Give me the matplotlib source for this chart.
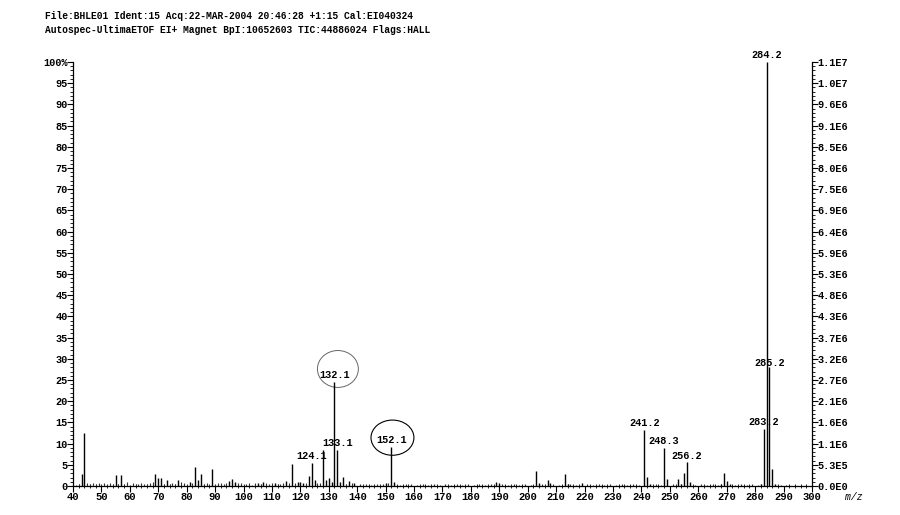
import numpy as np
import matplotlib.pyplot as plt
from matplotlib.patches import Ellipse

# ヘッダー
header = ['File:BHLE01 Ident:15 Acq:22-MAR-2004 20:46:28 +1:15 Cal:EI040324',
          'Autospec-UltimaETOF EI+ Magnet BpI:10652603 TIC:44886024 Flags:HALL']

# 主なピーク (m/z, 相対強度 %)
peak_mz = [43, 44, 55, 57, 69, 70, 71, 73, 77, 81, 83, 84, 85, 89, 95, 96, 97,
           105, 107, 111, 115, 117, 119, 120, 121, 123, 124, 125, 128, 129, 130, 131,
           132, 133, 134, 135, 137, 139, 150, 152, 153,
           189, 190, 203, 204, 207, 208, 213, 214, 219,
           241, 242, 243, 248, 249, 253, 254, 255, 256, 257,
           268, 269, 270, 271, 282, 283, 284, 285, 286, 287]
peak_int = [2.8, 12.6, 2.6, 2.6, 2.8, 1.8, 1.8, 1.5, 1.3, 1.0, 4.5, 1.5, 2.8, 3.9, 1.2, 1.6, 1.0,
            0.8, 0.9, 0.8, 1.1, 5.1, 1.0, 1.0, 0.8, 2.4, 5.5, 1.3, 8.5, 1.3, 1.8, 1.0,
            24.6, 8.5, 1.0, 2.2, 1.2, 0.6, 0.7, 9.3, 1.0,
            1.0, 0.6, 3.6, 0.6, 1.3, 0.6, 2.8, 0.5, 0.6,
            13.2, 2.2, 0.5, 9.0, 1.6, 1.6, 0.5, 3.0, 5.6, 0.9,
            0.5, 3.0, 1.2, 0.4, 0.5, 13.4, 100.0, 28.0, 4.0, 0.5]

# ベースラインの小さなピーク
noise_mz = [41, 42, 45, 46, 47, 48, 49, 50, 51, 52, 53, 54, 56, 58, 59, 60, 61, 62, 63,
            64, 65, 66, 67, 68, 72, 74, 75, 76, 78, 79, 80, 82, 86, 87, 88, 90, 91, 92,
            93, 94, 98, 99, 100, 101, 102, 103, 104, 106, 108, 109, 110, 112, 113, 114,
            116, 118, 122, 126, 127, 136, 138, 141, 143, 145, 147, 149, 151, 155, 157,
            159, 161, 163, 165, 167, 169, 171, 173, 175, 177, 179, 181, 183, 185, 187,
            191, 193, 195, 197, 199, 201, 205, 209, 211, 215, 217, 221, 223, 225, 227,
            229, 231, 233, 235, 237, 239, 245, 247, 251, 259, 261, 263, 265, 267, 273,
            275, 277, 279, 281, 289, 291]
noise_int = [0.3, 0.5, 0.6, 0.4, 0.8, 0.5, 0.7, 0.4, 0.8, 0.3, 0.6, 0.4, 0.5, 0.4, 0.9, 0.3, 0.8, 0.5, 0.4,
             0.7, 0.5, 0.4, 0.6, 0.9, 0.5, 0.4, 0.8, 0.5, 0.9, 0.6, 0.4, 0.8, 0.5, 0.7, 0.3, 0.5, 0.8, 0.6,
             0.4, 0.7, 0.6, 0.8, 0.4, 0.5, 0.7, 0.3, 0.6, 0.5, 0.7, 0.4, 0.8, 0.5, 0.4, 0.6,
             0.7, 0.6, 0.8, 0.6, 0.7, 0.5, 0.6, 0.4, 0.5, 0.3, 0.4, 0.5, 0.6, 0.3, 0.4,
             0.4, 0.3, 0.5, 0.3, 0.4, 0.3, 0.4, 0.3, 0.5, 0.3, 0.4, 0.3, 0.4, 0.3, 0.5,
             0.4, 0.3, 0.4, 0.3, 0.4, 0.3, 0.5, 0.4, 0.3, 0.4, 0.3, 0.4, 0.3, 0.4, 0.3,
             0.4, 0.3, 0.4, 0.3, 0.4, 0.3, 0.4, 0.3, 0.4, 0.3, 0.4, 0.3, 0.4, 0.3, 0.3,
             0.4, 0.3, 0.4, 0.3, 0.3, 0.3]

# ラベル付きピーク
label_mz = [124, 132, 133, 152, 241, 248, 256, 283, 284, 285]
label_txt = ['124.1', '132.1', '133.1', '152.1', '241.2', '248.3', '256.2', '283.2', '284.2', '285.2']

left_ticks = [0, 5, 10, 15, 20, 25, 30, 35, 40, 45, 50, 55, 60, 65, 70, 75, 80, 85, 90, 95, 100]
left_labels = ['0', '5', '10', '15', '20', '25', '30', '35', '40', '45', '50', '55', '60',
               '65', '70', '75', '80', '85', '90', '95', '100%']
right_labels = ['0.0E0', '5.3E5', '1.1E6', '1.6E6', '2.1E6', '2.7E6', '3.2E6', '3.7E6', '4.3E6',
                '4.8E6', '5.3E6', '5.9E6', '6.4E6', '6.9E6', '7.5E6', '8.0E6', '8.5E6', '9.1E6',
                '9.6E6', '1.0E7', '1.1E7']
x_ticks = list(range(40, 301, 10))

plt.rcParams['font.family'] = ['Liberation Mono', 'DejaVu Sans Mono']

fig = plt.figure(figsize=(9, 5.15), dpi=100)
ax = fig.add_axes([0.0811, 0.0563, 0.8211, 0.8233])

ax.vlines(noise_mz, 0, noise_int, color='#333333', lw=0.8)
ax.vlines(peak_mz, 0, peak_int, color='black', lw=1.0)

ints = dict(zip(peak_mz, peak_int))
for m, t in zip(label_mz, label_txt):
    y = ints[m]
    if m == 285:
        y = ints[m] - 0.5
    ax.text(m, y + 0.4, t, ha='center', va='bottom', fontsize=7.4, fontweight='bold')

# 手書きの丸
ax.add_patch(Ellipse((132 + 1.2, ints[132] + 3.0), 14.4, 8.7, fill=False,
                     ec='#666666', lw=0.7))
ax.add_patch(Ellipse((152 + 0.4, ints[152] + 2.1), 15.1, 8.3, fill=False,
                     ec='black', lw=0.8))

ax.set_xlim(40, 300)
ax.set_ylim(0, 100)
ax.spines['top'].set_visible(False)
ax.spines['right'].set_visible(False)
for s in ['left', 'bottom']:
    ax.spines[s].set_linewidth(0.9)

ax.set_xticks(x_ticks)
ax.set_xticks(np.arange(40, 301, 2), minor=True)
ax.set_yticks(left_ticks)
ax.set_yticklabels(left_labels)
ax.set_yticks(np.arange(0, 101, 1), minor=True)
ax.tick_params(axis='x', which='major', direction='out', length=4, width=0.8, pad=0,
               labelsize=7.6)
ax.tick_params(axis='x', which='minor', direction='inout', length=3, width=0.6)
ax.tick_params(axis='y', which='major', direction='out', length=4, width=0.8, pad=0,
               labelsize=7.4)
ax.tick_params(axis='y', which='minor', direction='out', length=2, width=0.6)
for lab in ax.get_xticklabels() + ax.get_yticklabels():
    lab.set_fontweight('bold')

ax2 = ax.twinx()
ax2.set_ylim(0, 100)
ax2.spines['top'].set_visible(False)
ax2.spines['left'].set_visible(False)
ax2.spines['bottom'].set_visible(False)
ax2.spines['right'].set_linewidth(0.9)
ax2.set_yticks(left_ticks)
ax2.set_yticklabels(right_labels)
ax2.set_yticks(np.arange(0, 101, 1), minor=True)
ax2.tick_params(axis='y', which='major', direction='out', length=4, width=0.8, pad=0,
                labelsize=7.4)
ax2.tick_params(axis='y', which='minor', direction='out', length=2, width=0.6)
for lab in ax2.get_yticklabels():
    lab.set_fontweight('bold')

ax.text(1.057, -0.025, 'm/z', transform=ax.transAxes, ha='center', va='center',
        fontsize=7, style='italic')

fig.text(0.05, 0.969, header[0], ha='left', va='center', fontsize=6.9, fontweight='bold')
fig.text(0.05, 0.942, header[1], ha='left', va='center', fontsize=6.9, fontweight='bold')

fig.savefig('out.png', dpi=100)
